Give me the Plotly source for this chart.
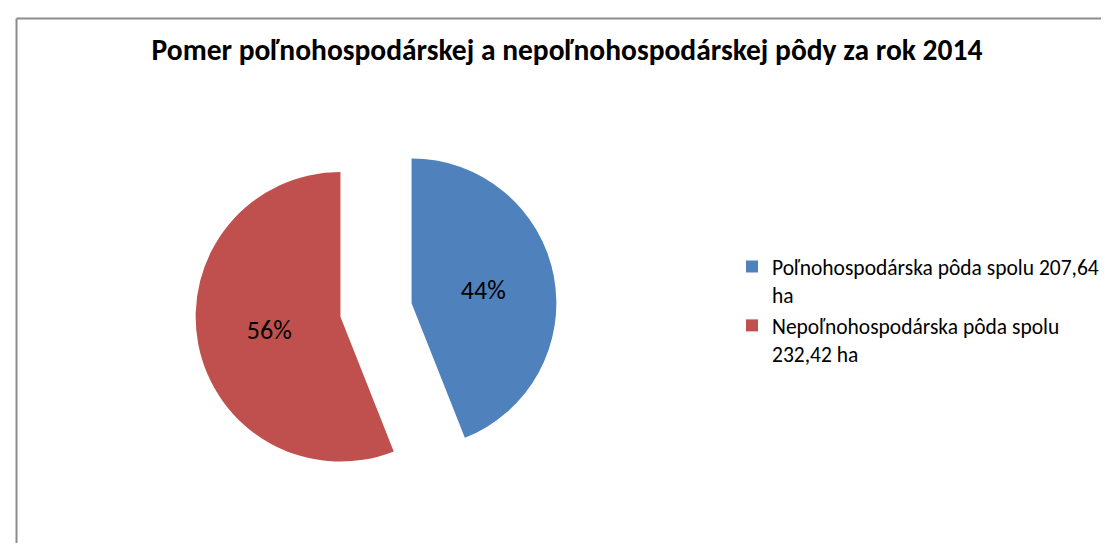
import plotly.graph_objects as go

labels = ["Poľnohospodárska pôda spolu 207,64<br>ha", "Nepoľnohospodárska pôda spolu<br>232,42 ha"]
shares = [44, 56]  # percentage shares as shown in the chart
colors = ["#4F81BD", "#C0504D"]
title = "Pomer poľnohospodárskej a nepoľnohospodárskej pôdy za rok 2014"

W, H = 1109, 543
FONT = "Calibri, Carlito, Lato, sans-serif"

fig = go.Figure(go.Pie(
    labels=labels, values=shares, sort=False, direction="clockwise", rotation=0,
    marker=dict(colors=colors, line=dict(width=0)),
    pull=[0.25, 0.25],
    texttemplate="%{percent:.0%}", textposition="inside", insidetextorientation="horizontal",
    textfont=dict(family=FONT, size=26, color="#000000"),
    domain=dict(x=[187 / W, 549 / W], y=[1 - 483 / H, 1 - 121 / H]),
    hoverinfo="label+percent",
))

fig.update_layout(
    width=W, height=H, margin=dict(l=0, r=0, t=0, b=0),
    paper_bgcolor="white", plot_bgcolor="white",
    title=dict(text="<b>" + title + "</b>", x=559 / W, xanchor="center", y=1 - 42 / H, yanchor="middle",
               font=dict(family=FONT, size=29.5, color="#000000")),
    legend=dict(x=724 / W, xanchor="left", y=1 - 238 / H, yanchor="top", valign="top",
                font=dict(family=FONT, size=21.5, color="#000000"),
                itemwidth=30, itemsizing="constant", bgcolor="rgba(0,0,0,0)"),
    showlegend=True,
    shapes=[
        dict(type="line", xref="paper", yref="paper", x0=8.5 / W, x1=1, y0=1 - 10.5 / H, y1=1 - 10.5 / H,
             line=dict(color="#8C8C8C", width=2)),
        dict(type="line", xref="paper", yref="paper", x0=8.5 / W, x1=8.5 / W, y0=0, y1=1 - 10.5 / H,
             line=dict(color="#8C8C8C", width=2)),
    ],
)

fig.write_html("out.html")
